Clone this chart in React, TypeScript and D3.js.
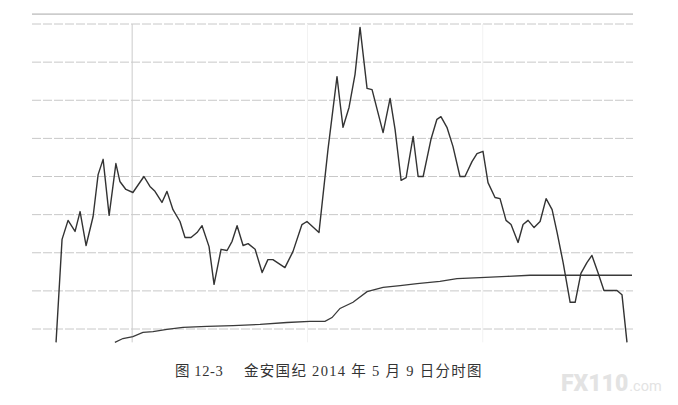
import React from 'react';
import * as d3 from 'd3';

// minute index (x) and price level in grid units (y)
const priceTime = [9.6, 12.0, 14.4, 17.2, 19.2, 21.6, 24.4, 26.4, 28.4, 30.8, 33.5, 35.1, 37.5, 40.3, 44.7, 47.1, 49.1, 51.9, 53.9, 56.3, 59.1, 61.1, 63.5, 65.9, 67.9, 70.7, 72.7, 75.5, 77.9, 79.9, 81.9, 84.3, 86.3, 89.1, 91.9, 94.2, 96.2, 101.0, 104.2, 107.8, 109.8, 114.6, 118.2, 121.8, 123.0, 124.2, 126.6, 129.0, 131.0, 133.8, 135.8, 140.2, 143.0, 145.0, 147.4, 149.4, 152.2, 154.2, 156.2, 159.3, 161.7, 163.3, 165.7, 168.1, 170.9, 172.9, 175.7, 177.7, 180.1, 182.1, 184.9, 186.9, 189.3, 191.3, 194.1, 196.1, 198.1, 200.5, 202.9, 205.3, 207.7, 209.7, 212.1, 214.9, 216.9, 219.2, 221.6, 223.6, 226.0, 228.4, 233.6, 235.6, 237.6];
const priceValue = [-4.35, -1.65, -1.15, -1.44, -0.92, -1.81, -1.05, 0.05, 0.45, -1.02, 0.34, -0.13, -0.34, -0.42, 0, -0.26, -0.39, -0.68, -0.39, -0.87, -1.18, -1.6, -1.6, -1.47, -1.29, -1.84, -2.83, -1.91, -1.94, -1.7, -1.29, -1.81, -1.76, -1.91, -2.52, -2.18, -2.18, -2.39, -1.97, -1.26, -1.18, -1.47, 0.71, 2.62, 1.94, 1.29, 1.81, 2.68, 3.91, 2.31, 2.28, 1.15, 2.05, 1.23, -0.1, -0.03, 1.05, 0, 0, 0.97, 1.5, 1.57, 1.29, 0.79, 0, 0, 0.39, 0.6, 0.66, -0.16, -0.55, -0.58, -1.15, -1.26, -1.73, -1.26, -1.15, -1.34, -1.18, -0.58, -0.87, -1.47, -2.26, -3.3, -3.3, -2.54, -2.26, -2.07, -2.52, -2.99, -2.99, -3.1, -4.35];

const avgTime = [33.1, 36.3, 40.3, 44.3, 48.3, 53.9, 60.3, 69.9, 80.3, 91.1, 101.8, 111.0, 117.0, 119.8, 123.0, 128.2, 133.8, 140.2, 147.0, 153.8, 162.9, 169.7, 178.9, 189.7, 198.9, 209.7, 222.8, 239.6];
const avgValue = [-4.35, -4.25, -4.2, -4.09, -4.07, -4.01, -3.96, -3.93, -3.91, -3.88, -3.83, -3.8, -3.8, -3.7, -3.46, -3.3, -3.02, -2.91, -2.86, -2.81, -2.75, -2.68, -2.65, -2.62, -2.59, -2.59, -2.59, -2.59];

const gridLevels = [-4, -3, -2, -1, 0, 1, 2, 3, 4];
const mainVertical = 40;
const faintVerticals = [110, 180];

const captionNo = '图 12-3';
const captionText = '金安国纪 2014 年 5 月 9 日分时图';

export default function App() {
  const width = 678;
  const height = 405;

  const x = d3.scaleLinear().domain([0, 240]).range([32, 633]);
  const y = d3.scaleLinear().domain([-4, 4]).range([329, 24]);
  const yTop = y(4.26);
  const yBottom = y(-4.35);

  const line = d3.line<[number, number]>()
    .x(d => x(d[0]))
    .y(d => y(d[1]));

  const pricePts = priceTime.map((t, i) => [t, priceValue[i]] as [number, number]);
  const avgPts = avgTime.map((t, i) => [t, avgValue[i]] as [number, number]);

  const captionFont = '"Liberation Serif", "Noto Sans CJK SC", serif';

  return (
    <svg
      width={width}
      height={height}
      viewBox={`0 0 ${width} ${height}`}
      style={{ position: 'absolute', left: 0, top: 0, background: '#fff' }}
    >
      {/* top border */}
      <line x1={x(0)} x2={x(240)} y1={yTop} y2={yTop} stroke="#a8a8a8" strokeWidth={1} />

      {/* horizontal grid */}
      {gridLevels.map(v => (
        <line
          key={v}
          x1={x(0)}
          x2={x(240)}
          y1={y(v)}
          y2={y(v)}
          stroke="#c8c8c8"
          strokeWidth={1}
          strokeDasharray="9 2"
        />
      ))}

      {/* vertical grid */}
      <line x1={x(mainVertical)} x2={x(mainVertical)} y1={y(4)} y2={yBottom} stroke="#cbcbcb" strokeWidth={1} />
      {faintVerticals.map(t => (
        <line key={t} x1={x(t)} x2={x(t)} y1={y(4)} y2={yBottom} stroke="#f2f2f2" strokeWidth={1} />
      ))}

      {/* average line */}
      <path d={line(avgPts) || ''} fill="none" stroke="#3a3a3a" strokeWidth={1.3} />

      {/* price line */}
      <path d={line(pricePts) || ''} fill="none" stroke="#333" strokeWidth={1.4} strokeLinejoin="round" />

      {/* caption */}
      <g fill="#333" fontSize={14.5} style={{ fontFamily: captionFont }}>
        <text x={175} y={376} letterSpacing={0.6}>{captionNo}</text>
        <text x={244} y={376} letterSpacing={1.3}>{captionText}</text>
      </g>

      {/* watermark */}
      <text x={561} y={391} fill="#e3e3e3" style={{ fontFamily: 'Roboto, "DejaVu Sans", sans-serif' }}>
        <tspan fontSize={23} fontWeight={900}>FX110</tspan>
        <tspan fontSize={14.5} dx={1}>.com</tspan>
      </text>
    </svg>
  );
}
